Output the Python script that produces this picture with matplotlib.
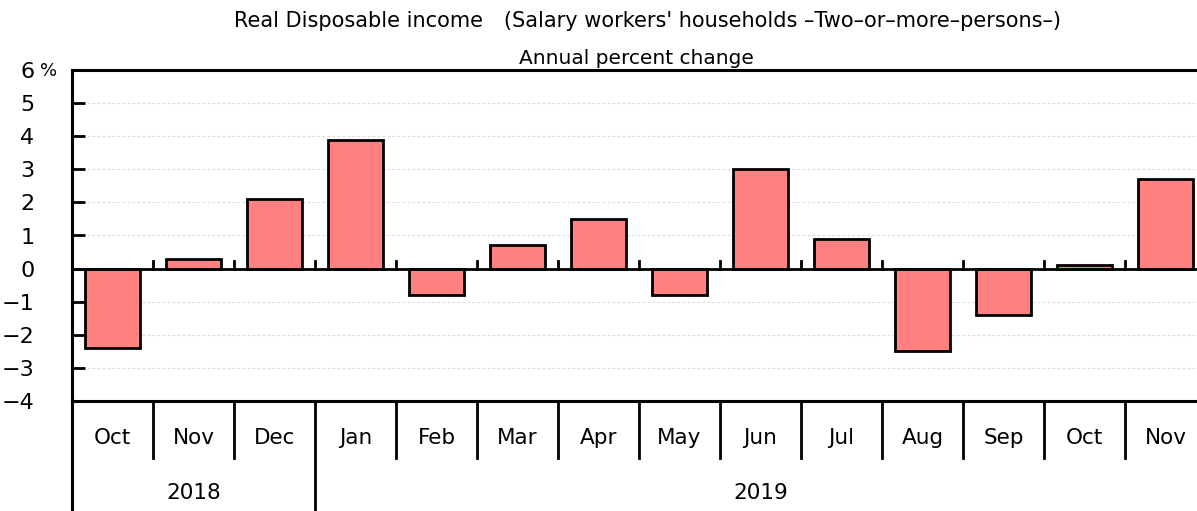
import numpy as np
import matplotlib.pyplot as plt
from matplotlib.transforms import blended_transform_factory

plt.rcParams["font.family"] = ["DejaVu Sans"]

months = ["Oct", "Nov", "Dec", "Jan", "Feb", "Mar", "Apr", "May",
          "Jun", "Jul", "Aug", "Sep", "Oct", "Nov"]
years = ["2018", "2019"]
year_spans = [(0, 2), (3, 13)]
values = [-2.4, 0.3, 2.1, 3.9, -0.8, 0.7, 1.5, -0.8, 3.0, 0.9, -2.5, -1.4, 0.1, 2.7]
yticks = [-4, -3, -2, -1, 0, 1, 2, 3, 4, 5, 6]

W, H = 1197, 511
fig = plt.figure(figsize=(W / 100, H / 100), dpi=100)
left_px, right_px, top_px, bot_px = 72, 1206, 70, 401
ax = fig.add_axes([left_px / W, (H - bot_px) / H,
                   (right_px - left_px) / W, (bot_px - top_px) / H])

x = np.arange(len(months))
ax.bar(x, values, width=0.67, color="#FF8080", edgecolor="black",
       linewidth=2, zorder=3)

ax.set_xlim(-0.5, len(months) - 0.5)
ax.set_ylim(-4, 6)
ax.set_yticks(yticks)
ax.set_yticklabels([f"{t}".replace("-", "\u2212") for t in yticks], fontsize=16)
ax.tick_params(axis="y", direction="in", length=9, width=2, pad=27)
ax.set_xticks([])

for t in yticks[1:-1]:
    ax.axhline(t, color="#dcdcdc", linestyle=(0, (2.5, 2)), linewidth=0.8, zorder=1)
ax.axhline(0, color="black", linewidth=2, zorder=4)

for s in ["left", "top", "bottom"]:
    ax.spines[s].set_linewidth(2.2)
ax.spines["right"].set_visible(False)

# small ticks on zero line between categories
for b in np.arange(0.5, len(months) - 1, 1.0):
    ax.plot([b, b], [0, 0.22], color="black", linewidth=2, zorder=4, clip_on=False)

# category labels below the axes
tr = blended_transform_factory(ax.transData, fig.transFigure)
y_axis_bottom = (H - bot_px) / H
y_month_bottom = (H - 458) / H
for i, m in enumerate(months):
    ax.text(i, (H - 438) / H, m, transform=tr, ha="center", va="center", fontsize=15.5)
for b in np.arange(0.5, len(months) - 1, 1.0):
    y_end = 0 if any(abs(b - (s - 0.5)) < 1e-9 for s, _ in year_spans[1:]) else y_month_bottom
    ax.plot([b, b], [y_axis_bottom, y_end], color="black", linewidth=2,
            transform=tr, clip_on=False)
ax.plot([-0.5, -0.5], [y_axis_bottom, 0], color="black", linewidth=2.2,
        transform=tr, clip_on=False)
for yr, (s, e) in zip(years, year_spans):
    ax.text((s + e) / 2, (H - 493) / H, yr, transform=tr, ha="center",
            va="center", fontsize=15.5)

fig.text(49 / W, (H - 71) / H, "%", fontsize=13, ha="center", va="center")
fig.text(647 / W, (H - 21) / H,
         "Real Disposable income\u2003(Salary workers' households \u2013Two\u2013or\u2013more\u2013persons\u2013)",
         ha="center", va="center", fontsize=15)
fig.text(636 / W, (H - 58) / H, "Annual percent change", ha="center",
         va="center", fontsize=14.5)

fig.savefig("out.png", dpi=100)
